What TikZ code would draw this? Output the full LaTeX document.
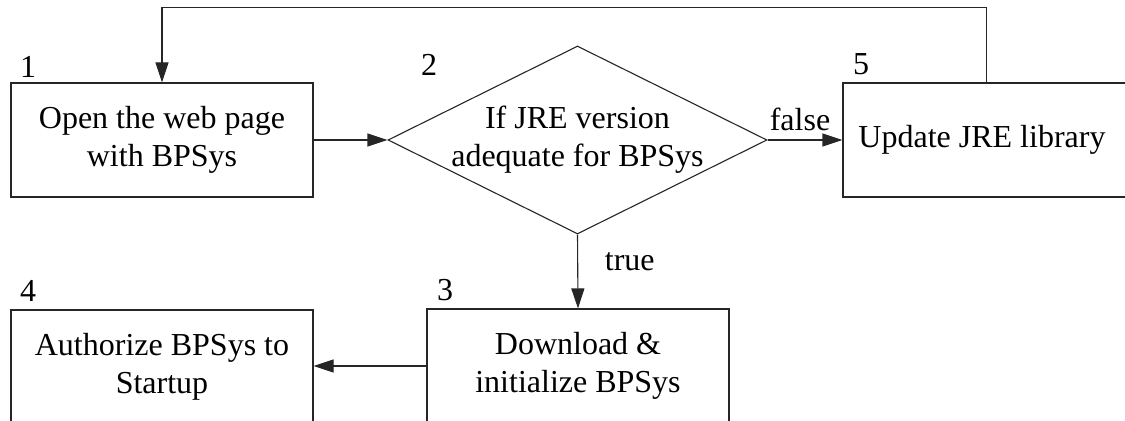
\documentclass[tikz,border=0pt]{standalone}
\usepackage{fontspec}
\setmainfont{Liberation Serif}
\usetikzlibrary{shapes.geometric,arrows.meta}
\begin{document}
\begin{tikzpicture}[x=0.5pt,y=-0.5pt,
  every node/.style={font=\fontsize{16}{19}\selectfont},
  line/.style={draw=black!85,line width=0.55pt},
  arr/.style={line,-{Triangle[length=10pt,width=6.5pt]}},
  stepbox/.style={line,rectangle,minimum width=151pt,minimum height=57pt,inner sep=0pt,align=center},
  decision/.style={line,diamond,minimum width=189.5pt,minimum height=94pt,inner sep=0pt},
  num/.style={inner sep=0pt}
]
\useasboundingbox (0,0) rectangle (1125,421);
\node[stepbox] (b1) at (162,140) {Open the web page\\with BPSys};
\node[decision,label={[align=center,font=\fontsize{16}{19}\selectfont]center:If JRE version\\adequate for BPSys}] (d2) at (577.5,140) {};
\node[stepbox] (b5) at (994,140) {Update JRE library\hspace*{12pt}};
\node[stepbox] (b3) at (578,366) {Download \&\\initialize BPSys};
\node[stepbox] (b4) at (162,367) {Authorize BPSys to\\Startup};
\node[num] (n1) at (28,67) {1};
\node[num] (n2) at (429,65) {2};
\node[num] (n5) at (861,64) {5};
\node[num] (n3) at (445,290) {3};
\node[num] (n4) at (28,291) {4};
\coordinate (loop) at ([xshift=72pt]b5.north west);
\draw[arr] (b1.east) -- (d2.west);
\draw[arr] (d2.east) -- node[above=4.5pt,inner sep=0pt,xshift=-2.5pt] (lf) {false} (b5.west);
\draw[arr] (d2.south) -- node[right=10pt,pos=0.37] (lt) {true} (b3.north);
\draw[arr] (b3.west) -- (b3.west -| b4.east);
\draw[arr] (loop) -- ++(0,-75) -| (b1.north);
\end{tikzpicture}
\end{document}
